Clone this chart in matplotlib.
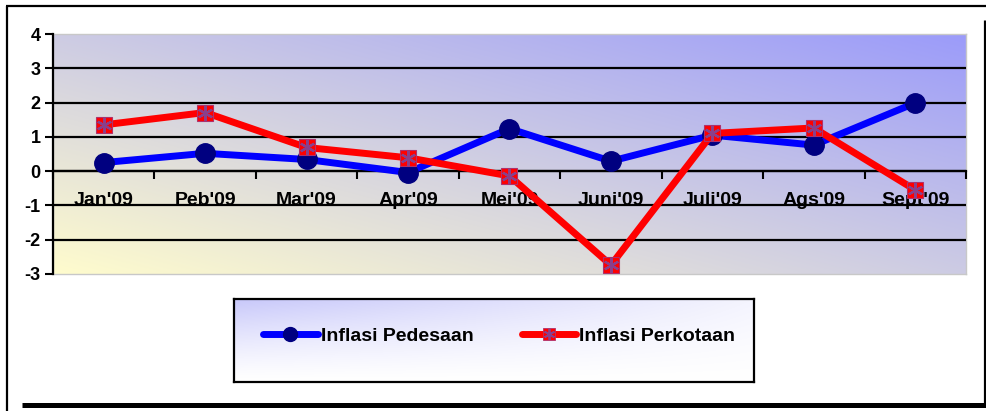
import numpy as np
import matplotlib
matplotlib.use('Agg')
from matplotlib import pyplot as plt
from matplotlib.lines import Line2D
from matplotlib.legend_handler import HandlerTuple

#
# Data
#
months = ["Jan'09", "Peb'09", "Mar'09", "Apr'09", "Mei'09",
          "Juni'09", "Juli'09", "Ags'09", "Sept'09"]
pedesaan = [0.25, 0.52, 0.34, -0.04, 1.24, 0.29, 1.05, 0.76, 1.99]
perkotaan = [1.35, 1.71, 0.69, 0.39, -0.14, -2.74, 1.10, 1.26, -0.55]
y_ticks = [-3, -2, -1, 0, 1, 2, 3, 4]
series_names = ['Inflasi Pedesaan', 'Inflasi Perkotaan']

plt.rcParams['font.family'] = ['Liberation Sans', 'DejaVu Sans']
plt.rcParams['font.weight'] = 'bold'
FS = 14
FS_Y = 13

W, H = 987, 411
fig = plt.figure(figsize=(W / 100, H / 100), dpi=100)


def px_rect(x0, y0, x1, y1):
    return [x0 / W, 1 - y1 / H, (x1 - x0) / W, (y1 - y0) / H]


#
# Plot area background (diagonal gradient)
#
rect = px_rect(53, 34, 966, 274)
bg = fig.add_axes(rect, zorder=0)
u = np.linspace(0, 1, 400)
v = np.linspace(0, 1, 200)
U, V = np.meshgrid(u, v)
t = 0.5 * U + 0.5 * V
c0 = np.array([255, 252, 205]) / 255.0
c1 = np.array([155, 155, 250]) / 255.0
img = c0[None, None, :] * (1 - t[..., None]) + c1[None, None, :] * t[..., None]
bg.imshow(img, extent=(0, 1, 0, 1), origin='lower', aspect='auto')
bg.set_xlim(0, 1)
bg.set_ylim(0, 1)
bg.set_xticks([])
bg.set_yticks([])
for s in bg.spines.values():
    s.set_color('#c8c8c8')
    s.set_linewidth(1.0)

#
# Main axes
#
ax = fig.add_axes(rect, zorder=1)
ax.set_facecolor('none')
x = np.arange(len(months)) + 0.5

ax.plot(x, pedesaan, color='#0000ff', lw=5, solid_capstyle='round',
        marker='o', ms=14, mfc='#000080', mec='#000080', zorder=4)
ax.plot(x, perkotaan, color='#ff0000', lw=5, solid_capstyle='round',
        marker='s', ms=12, mfc='#ff0000', mec='#b0306a', mew=0.8, zorder=5)
ax.plot(x, perkotaan, ls='none', marker=(6, 2, 0), ms=11,
        mec='#8a3f8a', mew=1.6, zorder=6)

ax.set_xlim(0, len(months))
ax.set_ylim(-3, 4)

ax.set_yticks(y_ticks)
ax.set_yticklabels([str(v) for v in y_ticks])
ax.tick_params(axis='y', direction='out', length=6, width=1.5, pad=3,
               labelsize=FS_Y)
ax.yaxis.grid(True, color='black', lw=1.6)
gl = ax.get_ygridlines()
gl[0].set_visible(False)
gl[-1].set_visible(False)
ax.set_axisbelow(True)

ax.set_xticks(np.arange(len(months) + 1))
ax.set_xticklabels([])
ax.set_xticks(x, minor=True)
ax.set_xticklabels(months, minor=True)
ax.tick_params(axis='x', which='major', direction='out', length=6, width=1.5)
ax.tick_params(axis='x', which='minor', length=0, pad=15, labelsize=FS)

ax.spines['bottom'].set_position(('data', 0))
ax.spines['bottom'].set_linewidth(1.6)
ax.spines['left'].set_linewidth(1.6)
ax.spines['top'].set_visible(False)
ax.spines['right'].set_visible(False)

#
# Legend box
#
lax = fig.add_axes(px_rect(234, 299, 754, 382), zorder=2)
lu = np.linspace(0, 1, 300)
lv = np.linspace(0, 1, 100)
LU, LV = np.meshgrid(lu, lv)
f = np.clip(LV ** 1.3 * (1 - 0.8 * LU), 0, 1)
lc0 = np.array([1.0, 1.0, 1.0])
lc1 = np.array([200, 200, 250]) / 255.0
limg = lc0[None, None, :] * (1 - f[..., None]) + lc1[None, None, :] * f[..., None]
lax.imshow(limg, extent=(0, 1, 0, 1), origin='lower', aspect='auto')
lax.set_xlim(0, 1)
lax.set_ylim(0, 1)
lax.set_xticks([])
lax.set_yticks([])
for s in lax.spines.values():
    s.set_color('black')
    s.set_linewidth(1.6)

h1 = Line2D([], [], color='#0000ff', lw=5, solid_capstyle='round',
            marker='o', ms=10, mfc='#000080', mec='#000080')
h2a = Line2D([], [], color='#ff0000', lw=5, solid_capstyle='round',
             marker='s', ms=9, mfc='#ff0000', mec='#b0306a', mew=0.6)
h2b = Line2D([], [], ls='none', marker=(6, 2, 0), ms=8, mec='#8a3f8a', mew=1.3)
lax.legend([h1, (h2a, h2b)], series_names, loc='center',
           bbox_to_anchor=(0.51, 0.55), frameon=False,
           ncol=2, handlelength=2.8, handletextpad=0.15,
           columnspacing=2.5, borderpad=0,
           handler_map={tuple: HandlerTuple(ndivide=1)},
           prop={'weight': 'bold', 'size': FS})

#
# Outer frame
#
def fig_line(xs, ys, lw):
    fig.add_artist(Line2D([a / W for a in xs], [1 - b / H for b in ys],
                          color='black', lw=lw, solid_capstyle='butt'))

fig_line([6, 987], [6, 6], 1.6)
fig_line([7, 7], [6, 411], 1.6)
fig_line([985.5, 985.5], [20, 407], 2.3)
fig_line([22, 987], [404.5, 404.5], 3.6)

fig.savefig('out.png', dpi=100)
